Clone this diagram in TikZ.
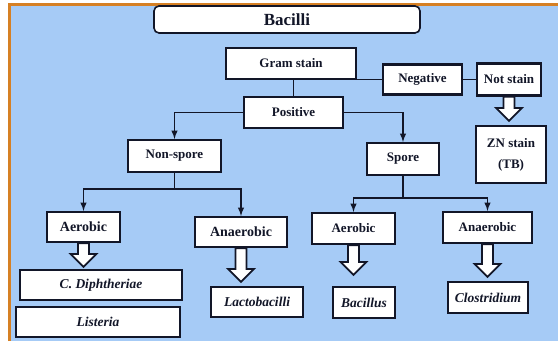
\documentclass[tikz,border=0pt]{standalone}
\usepackage{fontspec}
\setmainfont{Liberation Serif}
\usetikzlibrary{calc}
\definecolor{bgblue}{RGB}{166,203,246}
\definecolor{frameorange}{RGB}{214,128,36}
\definecolor{inkcol}{RGB}{18,22,40}

% hollow block arrow from the bottom of #1 down to the top of #2 (gap #3)
\newcommand{\fatarrow}[3]{%
  \draw[hollow] let \p1=(#1.south), \p2=(#2.north) in
    (\x1-5.5,\y1) -- (\x1+5.5,\y1) -- (\x1+5.5,\y2+#3+13) -- (\x1+13,\y2+#3+13)
    -- (\x1,\y2+#3) -- (\x1-13,\y2+#3+13) -- (\x1-5.5,\y2+#3+13) -- cycle;}

\begin{document}
\begin{tikzpicture}[x=1pt,y=-1pt,
  box/.style={draw=inkcol,line width=2.2pt,fill=white,inner sep=0pt,text=inkcol,
    font=\fontsize{13}{15}\selectfont\bfseries},
  genus/.style={box,font=\fontsize{13.5}{15}\selectfont\bfseries\itshape},
  link/.style={draw=inkcol,line width=1.8pt},
  hollow/.style={draw=inkcol,line width=1.8pt,fill=white,line join=miter}]
  \useasboundingbox (0,0) rectangle (558,341);

  % frame
  \fill[white] (0,0) rectangle (558,341);
  \fill[bgblue] (9,4) rectangle (558,341);
  \draw[frameorange,line width=3pt] (9.5,341) -- (9.5,4.5) -- (558,4.5);

  % title
  \node[box,rounded corners=5pt,line width=1.6pt,minimum width=266pt,minimum height=27pt,
    font=\fontsize{17}{20}\selectfont\bfseries] (bacilli) at (287,19.5) {Bacilli};

  % stain
  \node[box,minimum width=130pt,minimum height=31pt] (gram) at (291,63.5) {Gram stain};
  \node[box,minimum width=99pt,minimum height=31pt] (positive) at (293.5,112.5) {Positive};
  \node[box,minimum width=79pt,minimum height=30pt] (negative) at (422.5,79.5) {Negative};
  \node[box,minimum width=64pt,minimum height=32pt] (notstain) at (509,79.5) {Not stain};
  \node[box,minimum width=70pt,minimum height=57pt,align=center] (zn) at (511,154.5) {ZN stain\\[6pt](TB)};

  % spore or not
  \node[box,minimum width=93pt,minimum height=32pt] (nonspore) at (174.5,156) {Non-spore};
  \node[box,minimum width=72pt,minimum height=32pt] (spore) at (403,159) {Spore};

  % oxygen
  \node[box,minimum width=73pt,minimum height=30pt,font=\fontsize{14}{16}\selectfont\bfseries] (aerobicA) at (83.5,227) {Aerobic};
  \node[box,minimum width=92pt,minimum height=30pt,font=\fontsize{14}{16}\selectfont\bfseries] (anaerobicA) at (241,232) {Anaerobic};
  \node[box,minimum width=83pt,minimum height=31pt] (aerobicB) at (353.5,228.5) {Aerobic};
  \node[box,minimum width=89pt,minimum height=31pt] (anaerobicB) at (487.5,227.5) {Anaerobic};

  % genera
  \node[genus,minimum width=162pt,minimum height=30pt] (cdiph) at (101,285) {C. Diphtheriae};
  \node[genus,minimum width=164pt,minimum height=30pt] (listeria) at (98,322) {Listeria};
  \node[genus,minimum width=92pt,minimum height=30pt] (lacto) at (257,302) {Lactobacilli};
  \node[genus,minimum width=62pt,minimum height=31pt] (bacillus) at (364,302.5) {Bacillus};
  \node[genus,minimum width=80pt,minimum height=31pt] (clostridium) at (488,297.5) {Clostridium};

  % connectors
  \draw[link] (gram.south -| positive.north) -- (positive.north);
  \draw[link] (negative.west -| gram.east) -- (negative.west);
  \draw[link] (negative.east) -- (notstain.west);
  \draw[link,-latex] (positive.west) -| (nonspore.north);
  \draw[link,-latex] (positive.east) -| (spore.north);

  \coordinate (nsfork) at ($(nonspore.south)+(0,16)$);
  \draw[link] (nonspore.south) -- (nsfork);
  \draw[link,-latex] (nsfork) -| (aerobicA.north);
  \draw[link,-latex] (nsfork) -| (anaerobicA.north);

  \coordinate (spfork) at ($(spore.south)+(0,22)$);
  \draw[link] (spore.south) -- (spfork);
  \draw[link,-latex] (spfork) -| (aerobicB.north);
  \draw[link,-latex] (spfork) -| (anaerobicB.north);

  \fatarrow{notstain}{zn}{4}
  \fatarrow{aerobicA}{cdiph}{2}
  \fatarrow{anaerobicA}{lacto}{4}
  \fatarrow{aerobicB}{bacillus}{11}
  \fatarrow{anaerobicB}{clostridium}{4}
\end{tikzpicture}
\end{document}
